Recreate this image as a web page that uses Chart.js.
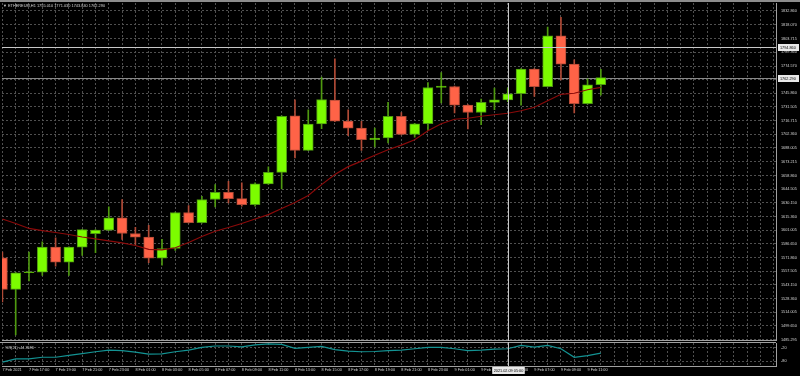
<!DOCTYPE html>
<html>
<head>
<meta charset="utf-8">
<script src="https://cdn.jsdelivr.net/npm/chart.js@4.4.1/dist/chart.umd.min.js"></script>
<style>
  html, body { margin: 0; background: #000; }
  #wrap { position: relative; width: 800px; height: 376px; background: #000; overflow: hidden; }
  #topline { position: absolute; left: 0; top: 0; width: 800px; height: 2px; background: #8c8c8c; }
  #main { position: absolute; left: 0; top: 2px; width: 800px; height: 339px; }
  #sub { position: absolute; left: 0; top: 342px; width: 800px; height: 34px; }
</style>
</head>
<body>
<div id="wrap">
  <div id="topline"></div>
  <div id="main"><canvas id="mainChart"></canvas></div>
  <div id="sub"><canvas id="subChart"></canvas></div>
</div>
<script>
// ETHEREUM H1 candles, 7 Feb 2021 15:00 -> 9 Feb 2021 12:00
const opens  = [1571.8, 1538.4, 1556.0, 1556.6, 1583.0, 1567.2, 1583.0, 1597.2, 1601.0, 1614.1,
                1597.5, 1593.6, 1571.4, 1581.6, 1619.7, 1608.8, 1633.4, 1641.1, 1634.4, 1628.1,
                1650.0, 1662.2, 1722.0, 1685.4, 1713.3, 1738.5, 1716.4, 1709.0, 1696.7, 1698.5,
                1721.3, 1702.3, 1713.6, 1751.9, 1753.0, 1733.3, 1725.5, 1736.1, 1738.9, 1745.3,
                1771.3, 1752.9, 1806.5, 1776.6, 1734.7, 1755.01];
const highs  = [1577.7, 1556.5, 1577.7, 1588.7, 1592.9, 1583.5, 1602.0, 1601.5, 1625.7, 1633.4,
                1604.1, 1606.2, 1591.2, 1620.2, 1627.0, 1636.9, 1649.2, 1652.7, 1651.0, 1651.0,
                1667.9, 1722.0, 1738.9, 1728.4, 1762.9, 1782.2, 1728.4, 1716.1, 1709.0, 1736.1,
                1725.5, 1714.0, 1757.2, 1767.7, 1753.4, 1733.8, 1739.7, 1751.3, 1751.6, 1772.0,
                1771.8, 1815.7, 1826.2, 1781.1, 1761.1, 1771.03];
const lows   = [1525.0, 1490.1, 1547.2, 1553.2, 1562.9, 1553.2, 1574.3, 1577.1, 1600.5, 1591.2,
                1585.9, 1566.6, 1564.0, 1579.5, 1608.3, 1608.3, 1625.7, 1629.9, 1626.3, 1626.3,
                1649.5, 1644.6, 1677.4, 1685.0, 1708.3, 1715.9, 1700.9, 1685.4, 1689.0, 1693.2,
                1701.8, 1699.5, 1706.2, 1735.7, 1724.9, 1708.0, 1712.5, 1728.4, 1737.0, 1733.3,
                1742.4, 1752.4, 1760.0, 1724.9, 1734.2, 1743.84];
const closes = [1538.4, 1556.0, 1557.0, 1583.0, 1567.2, 1583.0, 1601.7, 1601.0, 1614.1, 1597.5,
                1593.6, 1571.4, 1581.6, 1619.7, 1608.8, 1633.4, 1641.1, 1634.4, 1628.1, 1650.0,
                1662.2, 1721.3, 1685.4, 1713.3, 1739.2, 1716.4, 1709.0, 1696.7, 1698.5, 1721.3,
                1702.3, 1713.6, 1751.9, 1753.4, 1733.3, 1725.5, 1736.1, 1738.9, 1745.3, 1771.3,
                1752.9, 1806.5, 1776.6, 1734.7, 1754.8, 1762.29];
const maLine = [1612.8, 1608.0, 1602.8, 1600.6, 1598.5, 1596.4, 1593.8, 1591.7, 1589.6, 1587.5,
                1584.8, 1580.6, 1580.1, 1582.4, 1588.0, 1594.3, 1599.9, 1603.8, 1608.0, 1612.8,
                1617.5, 1623.9, 1630.2, 1637.6, 1649.2, 1659.8, 1668.2, 1674.0, 1680.3, 1686.1,
                1690.9, 1696.7, 1706.2, 1713.6, 1718.3, 1719.4, 1721.5, 1723.1, 1724.7, 1727.3,
                1731.0, 1737.9, 1744.7, 1745.8, 1749.5, 1752.1];
const wpr    = [-83, -69, -69, -62, -62, -54, -46, -38, -31, -33,
                -40, -48, -47, -38, -31, -19, -13, -13, -17, -8,
                -4, -6, -23, -19, -15, -29, -35, -38, -37, -33,
                -31, -25, -19, -19, -25, -33, -31, -27, -25, -10,
                -18, -10, -25, -62, -55, -44.3596];

// one label every 2 bars, starting at bar 0
const timeLabels = ['7 Feb 2021', '7 Feb 17:00', '7 Feb 19:00', '7 Feb 21:00', '7 Feb 23:00',
                    '8 Feb 01:00', '8 Feb 03:00', '8 Feb 05:00', '8 Feb 07:00', '8 Feb 09:00',
                    '8 Feb 11:00', '8 Feb 13:00', '8 Feb 15:00', '8 Feb 17:00', '8 Feb 19:00',
                    '8 Feb 21:00', '8 Feb 23:00', '9 Feb 01:00', '9 Feb 03:00', '9 Feb 05:00',
                    '9 Feb 07:00', '9 Feb 09:00', '9 Feb 11:00'];
const priceLabels = ['1832.860', '1818.070', '1803.715', '1789.360', '1774.570', '1760.215',
                     '1745.860', '1731.505', '1716.715', '1702.360', '1688.005', '1673.215',
                     '1658.860', '1644.505', '1630.150', '1615.360', '1601.005', '1586.650',
                     '1571.860', '1557.505', '1543.150', '1528.360', '1514.005', '1499.650',
                     '1485.295'];
const wprLevels = [-20, -80];

const crossBar   = 38;
const crossTime  = '2021.02.09 05:00';
const crossPrice = 1794.860;

const FONT = '"Liberation Sans", Arial, sans-serif';
const TEXT = '#d4d4d4';
const GRID = '#505050';
const AXIS = '#a0a0a0';
const UP = '#7cfc00', DOWN = '#ff6347';
const UP_EDGE = '#4f9a10', DOWN_EDGE = '#b04a36';

const X_MIN = -0.03, X_MAX = 58.17, SLOTS = 59;

const up = closes.map((c, i) => c >= opens[i]);

function xAxis(extra) {
  return Object.assign({
    type: 'linear', min: X_MIN, max: X_MAX, offset: false,
    afterBuildTicks: s => { s.ticks = Array.from({ length: SLOTS }, (_, i) => ({ value: i })); },
    grid: { color: GRID, lineWidth: 1, drawTicks: false, offset: false },
    border: { display: true, color: AXIS, dash: [2, 2] },
  }, extra);
}

// right-hand scale; tick padding is kept at 0 (it would also pad the plot top/bottom),
// the gap before the labels comes from an invisible tick mark instead
function rightAxis(extra) {
  return Object.assign({
    position: 'right',
    afterFit: s => { s.width = 24; },
    ticks: { color: TEXT, padding: 0, font: { family: FONT, size: 3.8, lineHeight: 0.4 } },
    grid: { color: GRID, lineWidth: 1, drawTicks: true, tickLength: 5, tickColor: 'rgba(0,0,0,0)' },
    border: { display: true, color: AXIS, dash: [2, 2] },
  }, extra);
}

function priceBox(ctx, left, yPix, text) {
  ctx.fillStyle = '#e8e8e8';
  ctx.fillRect(left + 2, yPix - 3.5, 21, 7);
  ctx.fillStyle = '#000';
  ctx.font = `3.8px ${FONT}`;
  ctx.textAlign = 'left';
  ctx.textBaseline = 'middle';
  ctx.fillText(text, left + 4, yPix);
}

const mainOverlay = {
  id: 'mainOverlay',
  beforeDatasetsDraw(chart) {
    const { ctx, chartArea: a, scales: { y } } = chart;
    const yb = Math.round(y.getPixelForValue(closes[closes.length - 1])) + 0.5;
    ctx.save();
    ctx.strokeStyle = '#8a8a8a';
    ctx.lineWidth = 1;
    ctx.beginPath(); ctx.moveTo(a.left, yb); ctx.lineTo(a.right, yb); ctx.stroke();
    ctx.restore();
  },
  afterDraw(chart) {
    const { ctx, chartArea: a, scales: { x, y } } = chart;
    const cx = Math.round(x.getPixelForValue(crossBar)) + 0.5;
    const cy = Math.round(y.getPixelForValue(crossPrice)) + 0.5;
    const yb = Math.round(y.getPixelForValue(closes[closes.length - 1])) + 0.5;
    ctx.save();
    ctx.strokeStyle = '#c8c8c8';
    ctx.lineWidth = 1;
    ctx.beginPath();
    ctx.moveTo(cx, a.top); ctx.lineTo(cx, a.bottom + 1);
    ctx.moveTo(a.left, cy); ctx.lineTo(a.right, cy);
    ctx.stroke();
    priceBox(ctx, a.right, yb, closes[closes.length - 1].toFixed(3));
    priceBox(ctx, a.right, cy, crossPrice.toFixed(3));
    const n = closes.length - 1;
    ctx.font = `3.9px ${FONT}`;
    ctx.fillStyle = TEXT;
    ctx.textAlign = 'left';
    ctx.textBaseline = 'middle';
    ctx.fillText(`\u25BC ETHEREUM,H1 ${opens[n].toFixed(3)} ${highs[n].toFixed(3)} ${lows[n].toFixed(3)} ${closes[n].toFixed(3)}`,
                 a.left + 1, a.top + 2.7);
    ctx.restore();
  }
};

new Chart(document.getElementById('mainChart'), {
  type: 'bar',
  data: {
    datasets: [
      {
        type: 'line', label: 'MA', order: 0,
        data: maLine.map((v, i) => ({ x: i, y: v })),
        borderColor: '#8b0a0a', borderWidth: 1.2, pointRadius: 0, tension: 0,
      },
      {
        label: 'body', order: 1, grouped: false,
        data: opens.map((o, i) => ({ x: i, y: [o, closes[i]] })),
        backgroundColor: up.map(u => u ? UP : DOWN),
        borderColor: up.map(u => u ? UP_EDGE : DOWN_EDGE),
        borderWidth: 1, borderSkipped: false, barThickness: 10,
      },
      {
        label: 'wick', order: 2, grouped: false,
        data: lows.map((l, i) => ({ x: i, y: [l, highs[i]] })),
        backgroundColor: up.map(u => u ? UP_EDGE : DOWN_EDGE),
        borderWidth: 0, barThickness: 1,
      },
    ],
  },
  options: {
    responsive: true,
    maintainAspectRatio: false,
    animation: false,
    events: [],
    layout: { padding: { top: 1, left: 2, right: 0, bottom: 0 } },
    plugins: { legend: { display: false }, tooltip: { enabled: false } },
    scales: {
      x: xAxis({ ticks: { display: false }, afterFit: s => { s.height = 0; } }),
      y: rightAxis({
        min: 1484.56, max: 1841.30,
        afterBuildTicks: s => { s.ticks = priceLabels.map(p => ({ value: Number(p) })); },
        ticks: {
          color: TEXT, padding: 0, font: { family: FONT, size: 3.8, lineHeight: 0.4 },
          callback: v => v.toFixed(3),
        },
      }),
    },
  },
  plugins: [mainOverlay],
});

const subOverlay = {
  id: 'subOverlay',
  afterDraw(chart) {
    const { ctx, chartArea: a, scales: { x } } = chart;
    const cx = Math.round(x.getPixelForValue(crossBar)) + 0.5;
    ctx.save();
    ctx.strokeStyle = AXIS;
    ctx.lineWidth = 1;
    ctx.beginPath(); ctx.moveTo(0, a.top - 0.5); ctx.lineTo(a.right, a.top - 0.5); ctx.stroke();
    ctx.strokeStyle = '#c8c8c8';
    ctx.beginPath(); ctx.moveTo(cx, 0); ctx.lineTo(cx, a.bottom); ctx.stroke();
    ctx.font = `3.8px ${FONT}`;
    ctx.textBaseline = 'middle';
    ctx.textAlign = 'left';
    ctx.fillStyle = TEXT;
    ctx.fillText(`%R(21) ${wpr[wpr.length - 1].toFixed(4)}`, a.left + 3, a.top + 4.7);
    const w = ctx.measureText(crossTime).width + 3;
    ctx.fillStyle = '#e8e8e8';
    ctx.fillRect(cx - w / 2, a.bottom + 1, w, 7);
    ctx.fillStyle = '#000';
    ctx.textAlign = 'center';
    ctx.fillText(crossTime, cx, a.bottom + 4.5);
    ctx.restore();
  }
};

new Chart(document.getElementById('subChart'), {
  type: 'line',
  data: {
    datasets: [{
      label: '%R(21)',
      data: wpr.map((v, i) => ({ x: i, y: v })),
      borderColor: '#139393', borderWidth: 1.2, pointRadius: 0, tension: 0,
    }],
  },
  options: {
    responsive: true,
    maintainAspectRatio: false,
    animation: false,
    events: [],
    layout: { padding: { top: 1, left: 2, right: 0, bottom: 0 } },
    plugins: { legend: { display: false }, tooltip: { enabled: false } },
    scales: {
      x: xAxis({
        afterFit: s => { s.height = 10; },
        ticks: {
          color: TEXT, padding: 2, align: 'start', autoSkip: false, maxRotation: 0,
          font: { family: FONT, size: 3.8 },
          callback: v => (v % 2 === 0 && v / 2 < timeLabels.length) ? timeLabels[v / 2] : '',
        },
      }),
      y: rightAxis({
        min: -100, max: 0,
        afterBuildTicks: s => { s.ticks = wprLevels.map(v => ({ value: v })); },
      }),
    },
  },
  plugins: [subOverlay],
});
</script>
</body>
</html>
